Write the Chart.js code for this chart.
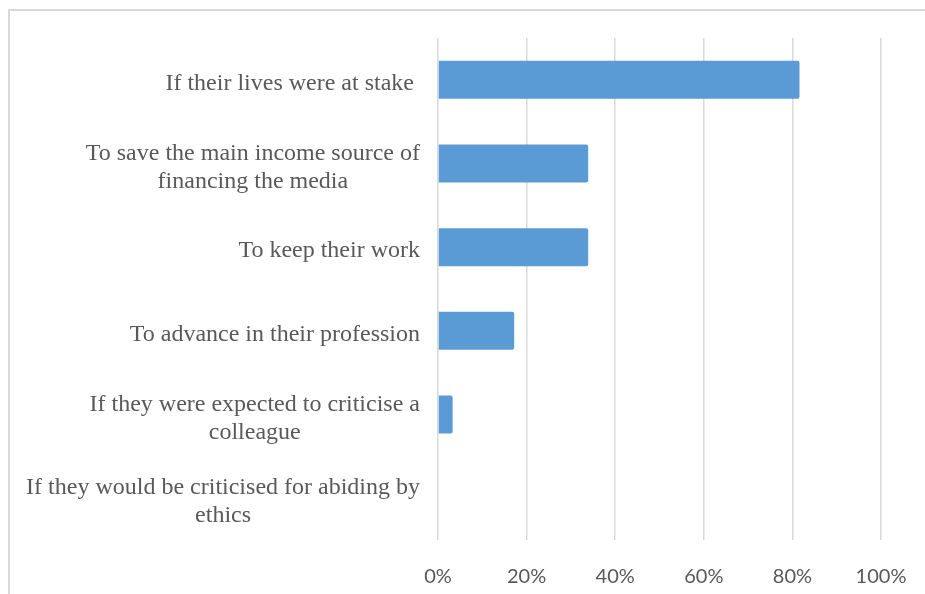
<!DOCTYPE html>
<html>
<head>
<meta charset="utf-8">
<script src="https://cdn.jsdelivr.net/npm/chart.js@4"></script>
<style>
  html, body { margin: 0; background: #fff; }
  #wrap { position: relative; width: 925px; height: 594px; overflow: hidden; }
  #frame { position: absolute; left: 8px; top: 9px; width: 1200px; height: 1200px;
           border-left: 2px solid #d9d9d9; border-top: 2px solid #d9d9d9; }
  canvas { position: absolute; left: 0; top: 0; }
</style>
</head>
<body>
<div id="wrap">
  <div id="frame"></div>
  <canvas id="barChart" width="925" height="594"></canvas>
</div>
<script>
// Categories (wrapped lines), shares in percent, and axis ticks
const categories = [
  ['If their lives were at stake '],
  ['To save the main income source of', 'financing the media'],
  ['To keep their work'],
  ['To advance in their profession'],
  ['If they were expected to criticise a', 'colleague'],
  ['If they would be criticised for abiding by', 'ethics']
];
const shares = [81.6, 33.9, 33.9, 17.2, 3.3, 0];
const xTicks = [0, 20, 40, 60, 80, 100];

// Excel-style category labels: block right-aligned, wrapped lines centred
const categoryLabels = {
  id: 'categoryLabels',
  afterDraw(chart) {
    const { ctx } = chart;
    const y = chart.scales.y;
    const labelRight = chart.chartArea.left - 18;
    const lineGap = 28;
    ctx.save();
    ctx.font = '24px "Liberation Serif"';
    ctx.fillStyle = '#595959';
    ctx.textAlign = 'center';
    ctx.textBaseline = 'middle';
    categories.forEach((lines, i) => {
      const yc = y.getPixelForTick(i);
      const w = Math.max(...lines.map(l => ctx.measureText(l).width));
      const cx = labelRight - w / 2;
      lines.forEach((line, j) => {
        ctx.fillText(line, cx, yc + 4 + (j - (lines.length - 1) / 2) * lineGap);
      });
    });
    ctx.restore();
  }
};

function createBarChart() {
  const ctx = document.getElementById('barChart').getContext('2d');
  new Chart(ctx, {
    type: 'bar',
    data: {
      labels: categories,
      datasets: [{
        data: shares,
        backgroundColor: '#5B9BD5',
        borderRadius: 2,
        categoryPercentage: 1,
        barPercentage: 0.455
      }]
    },
    options: {
      indexAxis: 'y',
      responsive: false,
      animation: false,
      layout: { padding: { top: 38, right: 44, bottom: 8, left: 0 } },
      plugins: { legend: { display: false }, tooltip: { enabled: false } },
      scales: {
        x: {
          min: xTicks[0],
          max: xTicks[xTicks.length - 1],
          afterBuildTicks: scale => { scale.ticks = xTicks.map(v => ({ value: v })); },
          ticks: {
            callback: v => v + '%',
            color: '#595959',
            font: { family: 'Lato', size: 20 },
            padding: 25,
            maxRotation: 0
          },
          grid: { color: '#d9d9d9', lineWidth: 1.5, drawTicks: false },
          border: { display: false },
          afterFit: scale => {
            scale.height = 46;
            scale.paddingLeft = 0;
            scale.paddingRight = 0;
          }
        },
        y: {
          ticks: { display: false },
          grid: { display: false },
          border: { display: false },
          afterFit: scale => { scale.width = 438; }
        }
      }
    },
    plugins: [categoryLabels]
  });
}

createBarChart();
</script>
</body>
</html>
